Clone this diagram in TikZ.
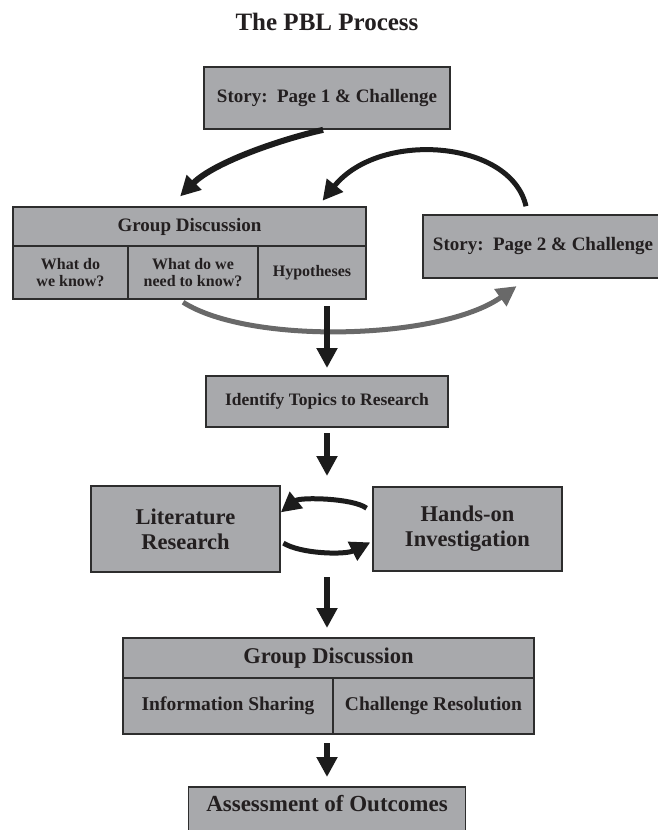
\documentclass[tikz,border=0pt]{standalone}
\usepackage{fontspec}
\setmainfont{Liberation Serif}
\usetikzlibrary{arrows.meta, positioning}
\definecolor{boxfill}{RGB}{168,169,172}
\definecolor{boxline}{RGB}{45,45,45}
\definecolor{ink}{RGB}{35,31,32}
\definecolor{arrowblack}{RGB}{28,28,28}
\definecolor{arrowgray}{RGB}{105,105,105}

\begin{document}
\begin{tikzpicture}[
  x=1pt, y=-1pt,
  box/.style={draw=boxline, fill=boxfill, line width=1.3pt, outer sep=0pt, inner sep=0pt, align=center, text=ink},
  arr/.style={line width=6pt, draw=arrowblack, -{Triangle[length=20pt,width=20pt]}},
  grayarr/.style={arr, draw=arrowgray, line width=5pt}]

  \useasboundingbox (0,0) rectangle (658,830);

  \node[text=ink, font=\bfseries\fontsize{25}{28}\selectfont] (title) at (327,22) {The PBL Process};

  \node[box, minimum width=246pt, minimum height=62pt, font=\bfseries\fontsize{19}{21}\selectfont] (story1) at (327,98) {Story:\ \ Page 1 \& Challenge};

  \node[box, minimum width=353pt, minimum height=39pt, font=\bfseries\fontsize{19}{21}\selectfont] (gd1head) at (189.5,226.5) {Group Discussion};
  \node[box, minimum width=115pt, minimum height=53pt, font=\bfseries\fontsize{16}{17}\selectfont, below right=0pt and 0pt of gd1head.south west] (know) {What do\\we know?};
  \node[box, minimum width=130pt, minimum height=53pt, font=\bfseries\fontsize{16}{17}\selectfont, right=0pt of know] (need) {What do we\\need to know?};
  \node[box, minimum width=108pt, minimum height=53pt, font=\bfseries\fontsize{16}{17}\selectfont, right=0pt of need] (hyp) {Hypotheses};

  \node[box, minimum width=240pt, minimum height=63pt, font=\bfseries\fontsize{19}{21}\selectfont] (story2) at (543,246.5) {Story:\ \ Page 2 \& Challenge};

  \node[box, minimum width=242pt, minimum height=51pt, font=\bfseries\fontsize{17.5}{20}\selectfont] (identify) at (327,401.5) {Identify Topics to Research};

  \node[box, minimum width=189pt, minimum height=86pt, font=\bfseries\fontsize{22.5}{25}\selectfont] (lit) at (185.5,529) {Literature\\Research};
  \node[box, minimum width=189pt, minimum height=84pt, font=\bfseries\fontsize{22.5}{25}\selectfont, right=93pt of lit] (hands) {Hands-on\\Investigation};

  \node[box, minimum width=411pt, minimum height=40pt, font=\bfseries\fontsize{22.5}{25}\selectfont] (gd2head) at (328.5,658) {Group Discussion};
  \node[box, minimum width=210pt, minimum height=56pt, font=\bfseries\fontsize{19.5}{22}\selectfont, below right=0pt and 0pt of gd2head.south west] (share) {Information Sharing};
  \node[box, minimum width=201pt, minimum height=56pt, font=\bfseries\fontsize{19.5}{22}\selectfont, right=0pt of share] (resolve) {Challenge Resolution};

  \node[box, anchor=north, minimum width=277pt, inner ysep=8pt, text height=16pt, text depth=30pt, font=\bfseries\fontsize{23}{26}\selectfont] (assess) at (327,787) {Assessment of Outcomes};

  \draw[arr, shorten <=4pt, shorten >=15pt] (story1.south) .. controls +(-45,10) and +(45,-45) .. ([xshift=-20pt]gd1head.north);
  \draw[arr, line width=5pt, shorten <=9pt, shorten >=8pt] ([xshift=-15pt]story2.north) .. controls +(-17,-75) and +(62,-77) .. ([xshift=128pt]gd1head.north);
  \draw[grayarr, shorten <=6pt, shorten >=14pt] ([xshift=50pt]need.south west) .. controls +(72,46) and +(-87,62) .. ([xshift=-15pt]story2.south);
  \draw[arr, shorten <=7pt, shorten >=8pt] (hyp.south -| identify.north) -- (identify.north);
  \draw[arr, shorten <=6pt, shorten >=10pt] (identify.south) -- (identify.south |- lit.north);
  \draw[arr, line width=5pt, shorten <=8pt, shorten >=1pt] ([yshift=16pt]hands.west) .. controls +(-20,-15) and +(20,-16) .. ([yshift=16pt]lit.east);
  \draw[arr, line width=5pt, shorten <=4pt, shorten >=3pt] ([yshift=-12pt]lit.east) .. controls +(21,13) and +(-28,14) .. ([yshift=-12pt]hands.west);
  \draw[arr, shorten <=5pt, shorten >=10pt] (identify.south |- lit.south) -- (identify.south |- gd2head.north);
  \draw[arr, shorten <=9pt, shorten >=10pt] (identify.south |- share.south) -- (identify.south |- assess.north);
\end{tikzpicture}
\end{document}
